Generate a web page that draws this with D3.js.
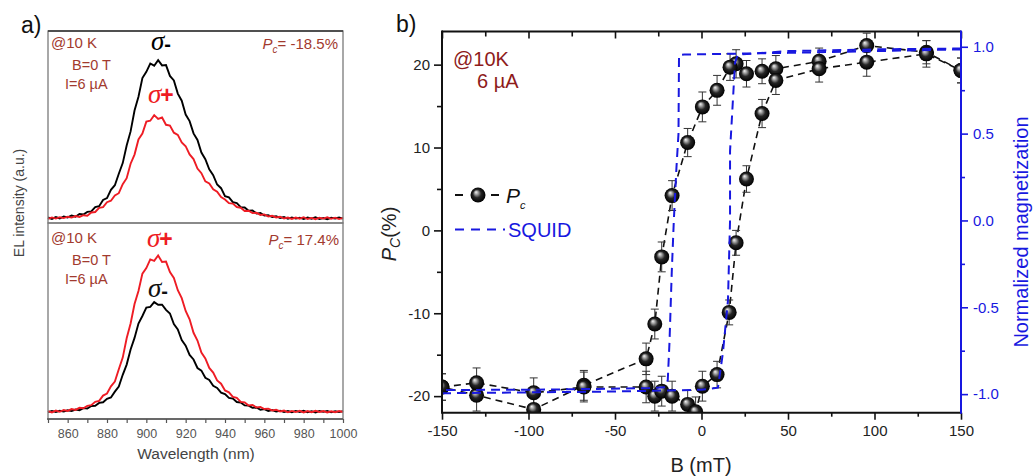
<!DOCTYPE html>
<html><head><meta charset="utf-8">
<script src="https://cdn.jsdelivr.net/npm/d3@7"></script>
<style>body{margin:0;background:#fff}svg{display:block}text{font-family:"Liberation Sans",Arial,sans-serif}</style>
</head><body><svg id="c" width="1033" height="476"></svg>
<script>
// ---------- Panel a) data : EL spectra ----------
const wavelengths = [850,852,854,856,858,860,862,864,866,868,870,872,874,876,878,880,882,884,886,888,890,892,894,896,898,900,902,904,906,908,910,912,914,916,918,920,922,924,926,928,930,932,934,936,938,940,942,944,946,948,950,952,954,956,958,960,962,964,966,968,970,972,974,976,978,980,982,984,986,988,990,992,994,996,998,1000];
const topSigmaMinus = [0.8,-0.6,1.2,-0.2,1.8,0.9,2.8,1.6,4.3,3.8, 6.4,6.9,11.2,12.1,18.3,20.2,28.5,33.1,44.6,55.2, 72.8,86.9,107.8,121.6,140.2,146.5,154.8,152.6,158.1,152.9, 153.2,142.4,137.9,124.7,117.6,103.8,97.2,84.9,78.3,65.8, 59.1,48.9,43.2,33.8,30.1,22.2,20.9,16.1,15.3,11.2, 10.8,7.6,7.9,4.7,5.3,2.8,3.2,1.3,2.1,0.4, 1.2,-0.5,0.9,-0.3,0.6,-0.8,0.7,-0.4,1.0,-0.6, 0.3,-0.9,0.5,-0.2,0.8,-0.4];
const topSigmaPlus = [-0.5,0.9,-0.3,1.1,0.2,1.6,0.7,2.2,1.4,3.1, 2.6,5.8,6.3,10.4,11.2,16.1,17.6,22.8,25.1,34.2, 40.1,54.6,63.7,78.9,84.8,96.7,97.6,103.2,99.4,100.8, 93.5,92.7,85.6,83.4,75.8,72.1,63.9,59.2,49.8,45.1, 36.9,34.8,29.1,26.7,21.2,18.8,15.1,14.7,11.3,10.6, 7.3,7.6,5.2,5.6,3.4,3.9,1.8,2.5,0.9,1.6, -0.2,0.8,-0.6,0.7,-0.4,1.1,-0.7,0.4,-0.9,0.6, -0.3,1.0,-0.5,0.6,-0.8,0.4];
const botSigmaPlus = [0.6,-0.7,1.1,-0.1,1.7,0.8,2.6,1.8,3.9,3.4, 5.8,6.5,9.9,10.8,16.1,18.2,25.3,30.1,42.4,54.1, 73.5,88.2,107.6,120.8,138.1,143.6,152.3,150.9,156.2,149.8, 150.1,139.6,133.8,121.5,113.6,100.7,92.4,78.9,71.2,59.1, 53.2,43.8,39.1,31.2,28.0,21.3,19.4,14.8,13.9,9.8, 9.3,6.3,6.8,4.2,4.8,2.7,3.1,1.3,2.0,0.3, 1.1,-0.6,0.8,-0.4,0.9,-0.7,0.6,-0.5,0.9,-0.3, 0.7,-0.8,0.4,-0.5,0.7,-0.3];
const botSigmaMinus = [-0.4,0.8,-0.2,0.9,0.1,1.4,0.6,2.1,1.5,3.6, 3.1,5.7,5.9,8.8,9.4,12.9,14.2,20.1,25.2,36.9, 47.1,62.2,73.8,88.1,95.7,104.2,104.8,109.6,106.9,107.1, 101.8,98.2,87.6,82.3,71.7,66.1,56.8,52.2,43.7,41.1, 33.9,31.8,25.9,23.8,19.1,17.6,13.8,13.1,9.7,9.2, 6.3,6.1,3.9,4.2,1.9,2.6,0.8,1.6,0.1,1.0, -0.4,0.7,-0.5,0.8,-0.3,0.9,-0.6,0.5,-0.7,0.6, -0.2,0.8,-0.6,0.5,-0.4,0.6];
const wlTickLabels = [860,880,900,920,940,960,980,1000];
const wlMinorTicks = [850,870,890,910,930,950,970,990];

// ---------- Panel b) data : Pc hysteresis and SQUID ----------
const downB   = [150,130,95.5,68,43,35,26,20,16.5,9,0.5,-8,-17,-23,-27,-32,-68,-97,-130,-150];
const downPc  = [19.3,21.5,22.3,20.4,19.5,19.2,18.9,20.1,19.7,16.9,14.9,10.6,4.2,-3.2,-11.3,-15.5,-18.7,-21.6,-19.9,-18.9];
const downErr = [1.5,1.4,1.5,1.6,1.6,1.5,1.6,1.7,1.6,1.8,1.8,1.7,1.8,1.8,1.8,1.9,1.8,1.8,1.9,1.6];
const upB   = [-150,-130,-97,-68,-32,-27,-23,-17,-8,-3.4,0.5,9,16,20,26,35,43,68,95.5,130,150];
const upPc  = [-18.9,-18.4,-19.6,-18.9,-18.9,-20,-19.4,-20,-21,-21.9,-18.8,-17.4,-9.9,-1.5,6.2,14.1,18.1,19.5,20.3,21.3,19.3];
const upErr = [1.6,1.8,1.8,1.8,1.9,1.8,1.8,1.8,1.7,1.8,1.8,1.6,1.5,1.5,1.6,1.7,1.7,1.6,1.7,1.6,1.5];
const squidDownB = [150,100,50,0,-10,-13,-13.3,-14.5,-16,-17.2,-18.5,-19.5,-21,-30,-60,-100,-150];
const squidDownM = [0.985,0.975,0.965,0.957,0.955,0.952,0.5,0.3,0.0,-0.3,-0.7,-0.92,-0.96,-0.965,-0.97,-0.975,-0.976];
const squidUpB = [-150,-100,-50,0,9.5,12.4,15.3,16.5,16.5,18.2,19.4,21,50,100,150];
const squidUpM = [-0.995,-0.99,-0.985,-0.975,-0.963,-0.76,-0.46,0.0,0.4,0.7,0.91,0.955,0.975,0.985,0.99];
const bTicks = [-150,-100,-50,0,50,100,150];
const bMinor = [-125,-75,-25,25,75,125];
const pcTicks = [-20,-10,0,10,20];
const pcMinor = [-15,-5,5,15];
const mTicks = [-1.0,-0.5,0.0,0.5,1.0];
const mMinor = [-0.75,-0.25,0.25,0.75];

const svg = d3.select('#c');
const defs = svg.append('defs');
const g0 = defs.append('radialGradient').attr('id','ball').attr('cx','50%').attr('cy','50%').attr('r','50%').attr('fx','36%').attr('fy','30%');
g0.append('stop').attr('offset','0%').attr('stop-color','#f4f4f4');
g0.append('stop').attr('offset','22%').attr('stop-color','#a8a8a8');
g0.append('stop').attr('offset','55%').attr('stop-color','#262626');
g0.append('stop').attr('offset','100%').attr('stop-color','#000');

// ===================== Panel a =====================
const xL = d3.scaleLinear().domain([850,1000]).range([48,343]);
const yT = d3.scaleLinear().domain([-4.7,187.3]).range([223,31]);
const yBt = d3.scaleLinear().domain([-7.3,187.7]).range([419,224]);
const redC = '#ee1c24', txtC = '#a23a2e';

svg.append('text').attr('x',21).attr('y',33).attr('font-family','Open Sans').attr('font-size',23).attr('fill','#111').text('a)');

const lineT = d3.line().x((d,i)=>xL(wavelengths[i])).y(d=>yT(d));
const lineB = d3.line().x((d,i)=>xL(wavelengths[i])).y(d=>yBt(d));
svg.append('path').attr('d',lineT(topSigmaMinus)).attr('fill','none').attr('stroke','#000').attr('stroke-width',1.9);
svg.append('path').attr('d',lineT(topSigmaPlus)).attr('fill','none').attr('stroke',redC).attr('stroke-width',1.9);
svg.append('path').attr('d',lineB(botSigmaMinus)).attr('fill','none').attr('stroke','#000').attr('stroke-width',1.9);
svg.append('path').attr('d',lineB(botSigmaPlus)).attr('fill','none').attr('stroke',redC).attr('stroke-width',1.9);

// frames
svg.append('rect').attr('x',48).attr('y',31).attr('width',295).attr('height',192).attr('fill','none').attr('stroke','#7a7a7a').attr('stroke-width',1.3);
svg.append('rect').attr('x',48).attr('y',223).attr('width',295).attr('height',196).attr('fill','none').attr('stroke','#7a7a7a').attr('stroke-width',1.3);
svg.append('line').attr('x1',48).attr('x2',343).attr('y1',31).attr('y2',31).attr('stroke','#333').attr('stroke-width',1.5);
svg.append('line').attr('x1',47).attr('x2',343).attr('y1',419).attr('y2',419).attr('stroke','#555').attr('stroke-width',1.6);

const axL = svg.append('g').attr('transform','translate(0,419)')
  .call(d3.axisBottom(xL).tickValues(wlTickLabels).tickSize(4).tickPadding(6).tickFormat(d3.format('d')));
const axLm = svg.append('g').attr('transform','translate(0,419)')
  .call(d3.axisBottom(xL).tickValues(wlMinorTicks).tickSize(4).tickFormat(''));
[axL,axLm].forEach(a=>{a.selectAll('.domain').remove(); a.selectAll('line').attr('stroke','#555').attr('stroke-width',1.2);});
axL.selectAll('text').attr('font-size',12.5).attr('fill','#555').attr('font-family','Liberation Sans, Arial, sans-serif');
svg.append('text').attr('x',196).attr('y',459).attr('text-anchor','middle').attr('font-size',15.5).attr('fill','#444').text('Wavelength (nm)');
svg.append('text').attr('transform','translate(24,203) rotate(-90)').attr('text-anchor','middle').attr('font-size',14).attr('fill','#444').text('EL intensity (a.u.)');

function condText(y0){
  svg.append('text').attr('x',51).attr('y',y0).attr('font-size',15).attr('fill',txtC).text('@10 K');
  svg.append('text').attr('x',72).attr('y',y0+22).attr('font-size',14.5).attr('fill',txtC).text('B=0 T');
  svg.append('text').attr('x',65).attr('y',y0+41).attr('font-size',14.5).attr('fill',txtC).text('I=6 µA');
}
condText(48); condText(243);
function sigma(x,y,sign,color){
  const t = svg.append('text').attr('x',x).attr('y',y).attr('fill',color);
  t.append('tspan').attr('font-family','Liberation Serif, serif').attr('font-style','italic').attr('font-size',27).text('σ');
  if(sign==='-') t.append('tspan').attr('font-family','Liberation Sans, Arial').attr('font-weight','bold').attr('font-size',20).attr('dy',1).text('-');
  else t.append('tspan').attr('font-family','Liberation Sans, Arial').attr('font-weight','bold').attr('font-size',23).attr('dx',-1).text('+');
}
sigma(151,50,'-','#000'); sigma(148,103,'+',redC);
sigma(147,247,'+',redC); sigma(148,297,'-','#111');
function pcText(x,y,val){
  const t = svg.append('text').attr('x',x).attr('y',y).attr('text-anchor','end').attr('font-size',15).attr('fill',txtC);
  t.append('tspan').attr('font-style','italic').text('P');
  t.append('tspan').attr('font-style','italic').attr('font-size',10).attr('dy',4).text('c');
  t.append('tspan').attr('dy',-4).text('= '+val);
}
pcText(338,49,'-18.5%'); pcText(339,245,'17.4%');

// ===================== Panel b =====================
const X0=442, X1=961, Y0=31.5, Y1=412.7;
const xB = d3.scaleLinear().domain([-150,150]).range([X0,X1]);
const yPc = d3.scaleLinear().domain([-22,24]).range([Y1,Y0]);
const yM = d3.scaleLinear().domain([-1.107,1.088]).range([Y1,Y0]);
defs.append('clipPath').attr('id','clipR').append('rect').attr('x',X0).attr('y',Y0).attr('width',X1-X0).attr('height',Y1-Y0);
const blue = '#1818e0';

svg.append('text').attr('x',396).attr('y',32).attr('font-family','Open Sans').attr('font-size',23).attr('fill','#111').text('b)');

const plot = svg.append('g').attr('clip-path','url(#clipR)');
const down = downB.map((b,i)=>({b, p:downPc[i], e:downErr[i]}));
const up = upB.map((b,i)=>({b, p:upPc[i], e:upErr[i]}));
const pcLine = d3.line().x(d=>xB(d.b)).y(d=>yPc(d.p));
[down, up].forEach(arr=>{
  plot.append('path').attr('d',pcLine(arr)).attr('fill','none').attr('stroke','#111').attr('stroke-width',1.6).attr('stroke-dasharray','7,5');
});
const allPts = down.concat(up);
const eb = plot.append('g').attr('stroke','#333').attr('stroke-width',1);
allPts.forEach(d=>{
  const x=xB(d.b), yt=yPc(d.p+d.e), yb=yPc(d.p-d.e);
  eb.append('line').attr('x1',x).attr('x2',x).attr('y1',yt).attr('y2',yb);
  eb.append('line').attr('x1',x-4).attr('x2',x+4).attr('y1',yt).attr('y2',yt);
  eb.append('line').attr('x1',x-4).attr('x2',x+4).attr('y1',yb).attr('y2',yb);
});
plot.selectAll('circle.pt').data(allPts).enter().append('circle').attr('class','pt')
  .attr('cx',d=>xB(d.b)).attr('cy',d=>yPc(d.p)).attr('r',7.5).attr('fill','url(#ball)');

const sqLine = d3.line().x(d=>xB(d[0])).y(d=>yM(d[1]));
[[squidDownB,squidDownM],[squidUpB,squidUpM]].forEach(([bs,ms])=>{
  plot.append('path').attr('d',sqLine(bs.map((b,i)=>[b,ms[i]]))).attr('fill','none').attr('stroke',blue).attr('stroke-width',2).attr('stroke-dasharray','9,6');
});

// axes
function mkAxis(transform, axis, color, withText){
  const g = svg.append('g').attr('transform',transform).call(axis);
  g.selectAll('.domain').remove();
  g.selectAll('line').attr('stroke',color).attr('stroke-width',1.6);
  if(withText) g.selectAll('text').attr('font-size',15).attr('fill',color==='#111'?'#222':color).attr('font-family','Liberation Sans, Arial, sans-serif');
  else g.selectAll('text').remove();
  return g;
}
const minus = s => s.replace('−','-');
mkAxis(`translate(0,${Y1})`, d3.axisBottom(xB).tickValues(bTicks).tickSize(7).tickPadding(6).tickFormat(d=>minus(d3.format('d')(d))), '#111', true);
mkAxis(`translate(0,${Y1})`, d3.axisBottom(xB).tickValues(bMinor).tickSize(4), '#111', false);
mkAxis(`translate(0,${Y0})`, d3.axisBottom(xB).tickValues(bTicks).tickSize(7), '#111', false);
mkAxis(`translate(0,${Y0})`, d3.axisBottom(xB).tickValues(bMinor).tickSize(5), '#111', false);
mkAxis(`translate(${X0},0)`, d3.axisLeft(yPc).tickValues(pcTicks).tickSize(8).tickPadding(4).tickFormat(d=>minus(d3.format('d')(d))), '#111', true);
mkAxis(`translate(${X0},0)`, d3.axisLeft(yPc).tickValues(pcMinor).tickSize(5), '#111', false);
mkAxis(`translate(${X1},0)`, d3.axisRight(yM).tickValues(mTicks).tickSize(7).tickPadding(5).tickFormat(d=>minus(d3.format('.1f')(d))), blue, true);
mkAxis(`translate(${X1},0)`, d3.axisRight(yM).tickValues(mMinor).tickSize(4), blue, false);

svg.append('line').attr('x1',X0).attr('x2',X1).attr('y1',Y0).attr('y2',Y0).attr('stroke','#111').attr('stroke-width',2);
svg.append('line').attr('x1',X0).attr('x2',X1+1).attr('y1',Y1).attr('y2',Y1).attr('stroke','#111').attr('stroke-width',2);
svg.append('line').attr('x1',X0).attr('x2',X0).attr('y1',Y0-1).attr('y2',Y1+1).attr('stroke','#111').attr('stroke-width',2);
svg.append('line').attr('x1',X1).attr('x2',X1).attr('y1',Y0-1).attr('y2',Y1+1).attr('stroke',blue).attr('stroke-width',2);

svg.append('text').attr('x',701).attr('y',472).attr('text-anchor','middle').attr('font-size',20).attr('fill','#222').text('B (mT)');
const pcl = svg.append('text').attr('transform','translate(396,234) rotate(-90)').attr('text-anchor','middle').attr('font-size',20).attr('fill','#222');
pcl.append('tspan').attr('font-style','italic').text('P');
pcl.append('tspan').attr('font-style','italic').attr('font-size',14).attr('dy',4).text('C');
pcl.append('tspan').attr('dy',-4).text('(%)');
svg.append('text').attr('transform','translate(1028,232) rotate(-90)').attr('text-anchor','middle').attr('font-size',20).attr('fill',blue).text('Normalized magnetization');

svg.append('text').attr('x',453).attr('y',66).attr('font-size',20).attr('fill','#8e1b1b').text('@10K');
svg.append('text').attr('x',477).attr('y',88).attr('font-size',20).attr('fill','#8e1b1b').text('6 µA');

// legend
const lg = svg.append('g');
lg.append('line').attr('x1',455).attr('x2',499).attr('y1',195).attr('y2',195).attr('stroke','#111').attr('stroke-width',1.8).attr('stroke-dasharray','8,28');
lg.append('circle').attr('cx',478).attr('cy',195).attr('r',7.5).attr('fill','url(#ball)');
const lt = lg.append('text').attr('x',506).attr('y',203).attr('font-size',21).attr('fill','#111');
lt.append('tspan').attr('font-style','italic').text('P');
lt.append('tspan').attr('font-style','italic').attr('font-size',11).attr('dy',6).text('c');
lg.append('line').attr('x1',455).attr('x2',505).attr('y1',229.5).attr('y2',229.5).attr('stroke',blue).attr('stroke-width',2).attr('stroke-dasharray','9,7');
lg.append('text').attr('x',508).attr('y',237).attr('font-size',20).attr('fill',blue).text('SQUID');
</script></body></html>
